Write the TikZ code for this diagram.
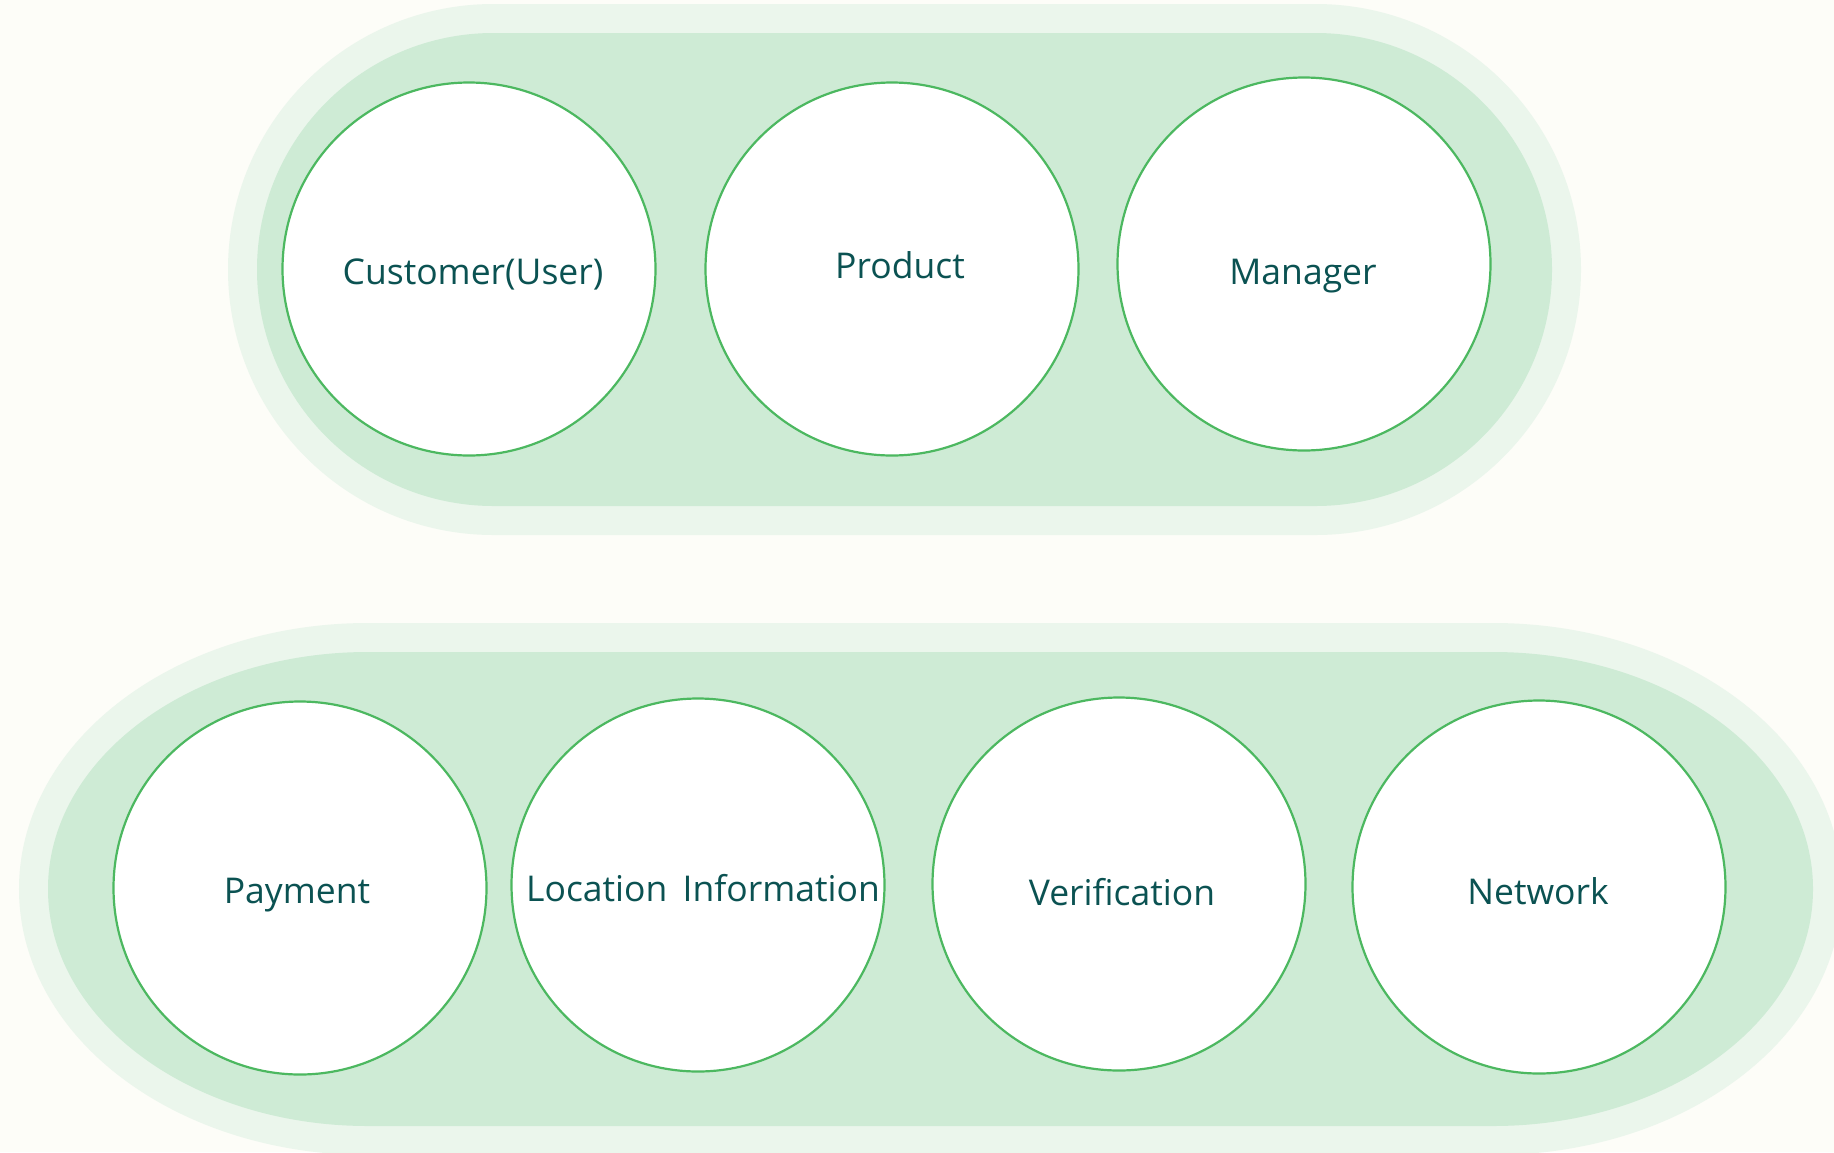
\documentclass[tikz,border=0pt]{standalone}
\usepackage{fontspec}
\setmainfont{Open Sans}
\definecolor{paper}{HTML}{FDFDF8}
\definecolor{bandout}{HTML}{EBF6EC}
\definecolor{bandin}{HTML}{CEEBD5}
\definecolor{ring}{HTML}{4CB860}
\definecolor{ink}{HTML}{0B5252}
\begin{document}
\begin{tikzpicture}[x=1pt, y=-1pt,
    ball/.style={circle, draw=ring, line width=2.2pt, fill=white, minimum size=373pt, inner sep=0pt},
    word/.style={anchor=base, inner sep=0pt, text=ink, font=\fontsize{35.5}{40}\selectfont},
    halo/.style={preaction={draw=bandout, line width=58pt}, fill=bandin}]
      % page and background
      \useasboundingbox (0,0) rectangle (1834,1152);
      \clip (0,0) rectangle (1834,1152);
      \fill[paper] (0,0) rectangle (1834,1152);

      % draw the upper group
      \path[halo] (493.5,33) -- (1315.5,33) arc[start angle=270, end angle=450, radius=236.5]
        -- (493.5,506) arc[start angle=90, end angle=270, radius=236.5] -- cycle;

      % draw the lower group
      \path[halo] (368,652) -- (1493,652) arc[start angle=270, end angle=450, x radius=320, y radius=237]
        -- (368,1126) arc[start angle=90, end angle=270, x radius=320, y radius=237] -- cycle;

      % the entities
      \node[ball] (cust) at (469,269) {};
      \node[ball] (prod) at (892,269) {};
      \node[ball] (mgr) at (1304,264) {};
      \node[word] (cust-t) at (473,284) {Customer(User)};
      \node[word] (prod-t) at (900,278) {Product};
      \node[word] (mgr-t) at (1303,284) {Manager};

      \node[ball] (pay) at (300,888) {};
      \node[ball] (loc) at (698,885) {};
      \node[ball] (verif) at (1119,884) {};
      \node[ball] (net) at (1539,887) {};
      \node[word] (pay-t) at (297,903) {Payment};
      \node[word] (loc-t) at (703,901) {Location\hspace{6pt} Information};
      \node[word] (verif-t) at (1122,905) {Verification};
      \node[word] (net-t) at (1538,904) {Network};
    \end{tikzpicture}
\end{document}
